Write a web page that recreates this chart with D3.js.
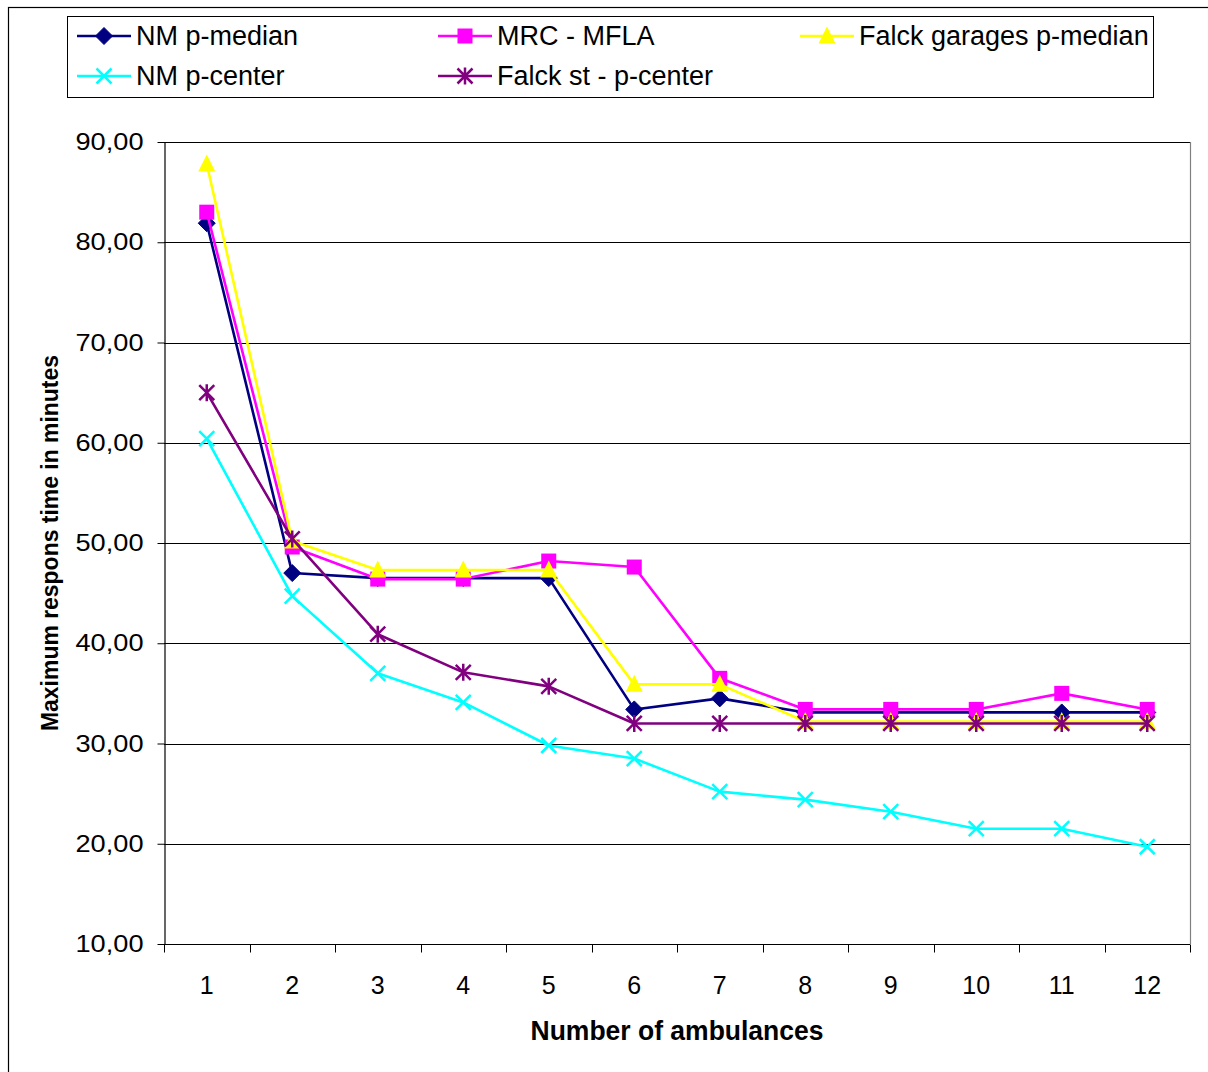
<!DOCTYPE html>
<html>
<head>
<meta charset="utf-8">
<script src="https://cdn.jsdelivr.net/npm/d3@7"></script>
<style>
  html, body { margin: 0; padding: 0; background: #fff; }
  svg { display: block; font-family: "Liberation Sans", Arial, sans-serif; }
</style>
</head>
<body>
<svg id="chart" width="1208" height="1072"></svg>
<script>
const categories = ["1","2","3","4","5","6","7","8","9","10","11","12"];
const yTicks = [10,20,30,40,50,60,70,80,90];

const nmPMedian   = [81.9, 47.0, 46.5, 46.5, 46.5, 33.4, 34.5, 33.1, 33.1, 33.1, 33.1, 33.1];
const mrcMfla     = [83.0, 49.6, 46.4, 46.4, 48.2, 47.6, 36.5, 33.4, 33.4, 33.4, 35.0, 33.4];
const falckGarPM  = [87.8, 50.2, 47.3, 47.3, 47.3, 35.9, 35.9, 32.2, 32.2, 32.2, 32.2, 32.2];
const nmPCenter   = [60.4, 44.7, 37.0, 34.1, 29.8, 28.5, 25.2, 24.4, 23.2, 21.5, 21.5, 19.7];
const falckStPC   = [65.0, 50.4, 40.9, 37.1, 35.7, 32.0, 32.0, 32.0, 32.0, 32.0, 32.0, 32.0];

const seriesNames   = ["NM p-median", "MRC - MFLA", "Falck garages p-median", "NM p-center", "Falck st - p-center"];
const seriesValues  = [nmPMedian, mrcMfla, falckGarPM, nmPCenter, falckStPC];
const seriesColors  = ["#000080", "#FF00FF", "#FFFF00", "#00FFFF", "#800080"];
const seriesMarkers = ["diamond", "square", "triangle", "x", "asterisk"];

(function () {
const svg = d3.select("#chart");
const pLeft = 164, pRight = 1190, pTop = 142, pBottom = 944;

// outer chart border
svg.append("rect").attr("x", 8.5).attr("y", 7.5).attr("width", 1210).attr("height", 1080)
  .attr("fill", "none").attr("stroke", "#000").attr("stroke-width", 1.2);

const x = d3.scaleBand().domain(categories).range([pLeft, pRight]).padding(0);
const y = d3.scaleLinear().domain([10, 90]).range([pBottom, pTop]);
const cx = c => x(c) + x.bandwidth() / 2;

// gridlines
svg.append("g").selectAll("line").data(yTicks.filter(t => t > 10)).join("line")
  .attr("x1", pLeft).attr("x2", pRight)
  .attr("y1", d => Math.round(y(d)) + 0.5).attr("y2", d => Math.round(y(d)) + 0.5)
  .attr("stroke", "#000").attr("stroke-width", 1);

// right border of plot area
svg.append("line").attr("x1", pRight + 0.5).attr("x2", pRight + 0.5).attr("y1", pTop).attr("y2", pBottom)
  .attr("stroke", "#808080").attr("stroke-width", 1.2);

// Y axis
const yAxis = d3.axisLeft(y).tickValues(yTicks).tickSize(7).tickSizeOuter(0)
  .tickFormat(d => d3.format(".2f")(d).replace(".", ","));
const gy = svg.append("g").attr("transform", `translate(${pLeft + 0.5},0)`).call(yAxis);
gy.select(".domain").attr("stroke", "#000").attr("stroke-width", 1.2);
gy.selectAll(".tick line").attr("stroke", "#000");
gy.selectAll(".tick text").attr("font-size", 24).attr("fill", "#000").attr("x", -21)
  .attr("textLength", 68).attr("lengthAdjust", "spacingAndGlyphs")
  .attr("font-family", "'Liberation Sans', Arial, sans-serif");

// X axis (ticks at band boundaries)
const gx = svg.append("g").attr("transform", `translate(0,${pBottom + 0.5})`);
gx.append("line").attr("x1", pLeft).attr("x2", pRight).attr("stroke", "#000").attr("stroke-width", 1.2);
const boundaries = categories.map(c => x(c)).concat([pRight]);
gx.selectAll("line.tk").data(boundaries).join("line").attr("class", "tk")
  .attr("x1", d => Math.round(d) + 0.5).attr("x2", d => Math.round(d) + 0.5)
  .attr("y1", 0).attr("y2", 8).attr("stroke", "#000");
gx.selectAll("text").data(categories).join("text")
  .attr("x", d => cx(d)).attr("y", 49).attr("text-anchor", "middle")
  .attr("font-size", 25).attr("fill", "#000").text(d => d);

// axis titles
svg.append("text").attr("x", 677).attr("y", 1040).attr("text-anchor", "middle")
  .attr("font-size", 27).attr("font-weight", "bold")
  .attr("textLength", 293).attr("lengthAdjust", "spacingAndGlyphs").text("Number of ambulances");
svg.append("text").attr("transform", "translate(58,543) rotate(-90)").attr("text-anchor", "middle")
  .attr("font-size", 23).attr("font-weight", "bold")
  .attr("textLength", 376).attr("lengthAdjust", "spacingAndGlyphs").text("Maximum respons time in minutes");

// marker drawing
function drawMarker(g, type, color, px, py) {
  const s = 7.5;
  if (type === "diamond") {
    g.append("path").attr("d", `M${px},${py - s - 1}L${px + s + 1},${py}L${px},${py + s + 1}L${px - s - 1},${py}Z`)
      .attr("fill", color).attr("stroke", color).attr("stroke-width", 1);
  } else if (type === "square") {
    g.append("rect").attr("x", px - s).attr("y", py - s).attr("width", 2 * s).attr("height", 2 * s)
      .attr("fill", color);
  } else if (type === "triangle") {
    g.append("path").attr("d", `M${px},${py - s - 2}L${px + s + 1},${py + s}L${px - s - 1},${py + s}Z`)
      .attr("fill", color);
  } else if (type === "x") {
    g.append("path").attr("d", `M${px - s},${py - s}L${px + s},${py + s}M${px - s},${py + s}L${px + s},${py - s}`)
      .attr("stroke", color).attr("stroke-width", 2.5).attr("fill", "none");
  } else if (type === "asterisk") {
    g.append("path").attr("d", `M${px - s},${py - s}L${px + s},${py + s}M${px - s},${py + s}L${px + s},${py - s}M${px},${py - s - 1}L${px},${py + s + 1}`)
      .attr("stroke", color).attr("stroke-width", 2.5).attr("fill", "none");
  }
}

const line = d3.line().x((d, i) => cx(categories[i])).y(d => y(d));

seriesValues.forEach((vals, si) => {
  const g = svg.append("g");
  g.append("path").datum(vals).attr("d", line).attr("fill", "none")
    .attr("stroke", seriesColors[si]).attr("stroke-width", 2.6).attr("stroke-linejoin", "round");
  vals.forEach((v, i) => drawMarker(g, seriesMarkers[si], seriesColors[si], cx(categories[i]), y(v)));
});

// legend
svg.append("rect").attr("x", 67.5).attr("y", 16.5).attr("width", 1086).attr("height", 81)
  .attr("fill", "#fff").attr("stroke", "#000").attr("stroke-width", 1);
const legendPos = [[77, 36], [438, 36], [800, 36], [77, 76], [438, 76]];
seriesNames.forEach((name, si) => {
  const [lx, ly] = legendPos[si];
  const g = svg.append("g");
  g.append("line").attr("x1", lx).attr("x2", lx + 54).attr("y1", ly).attr("y2", ly)
    .attr("stroke", seriesColors[si]).attr("stroke-width", 2.6);
  drawMarker(g, seriesMarkers[si], seriesColors[si], lx + 27, ly);
  g.append("text").attr("x", lx + 59).attr("y", ly + 9).attr("font-size", 27).attr("fill", "#000").text(name);
});
})();
</script>
</body>
</html>
